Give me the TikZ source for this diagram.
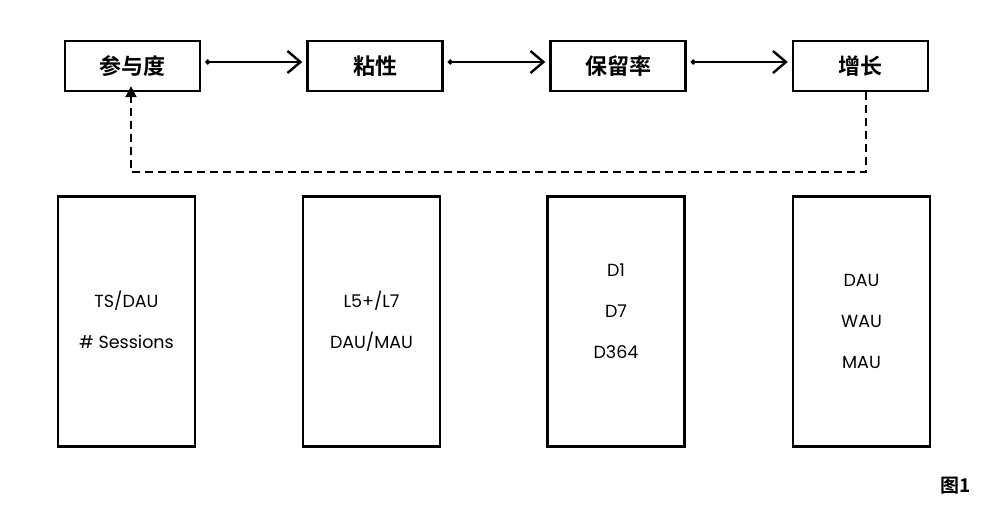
\documentclass[tikz,border=0pt]{standalone}
\usepackage{fontspec}
\setmainfont{Poppins}
\newfontfamily\cjk{Noto Sans CJK SC}[BoldFont={Noto Sans CJK SC Bold}]
\usetikzlibrary{arrows.meta}
\begin{document}
\begin{tikzpicture}[x=1pt,y=-1pt,
  topbox/.style={draw=black,line width=2.4pt,minimum width=135pt,minimum height=50pt,inner sep=0pt,font=\cjk\bfseries\fontsize{22}{22}\selectfont},
  botbox/.style={draw=black,line width=2.4pt,minimum width=137pt,minimum height=250pt,inner sep=0pt},
  metric/.style={font=\fontsize{17.5}{20}\selectfont},
  flow/.style={line width=1.8pt,{Circle[length=5pt]}-{Straight Barb[length=13pt,width=22pt,line width=2.4pt]}},
  loop/.style={line width=2pt,dash pattern=on 8pt off 5pt,-{Triangle[length=11pt,width=11pt]}}]
\useasboundingbox (0,0) rectangle (1000,516);
\node[topbox] (a) at (132.5,66) {参与度};
\node[topbox] (b) at (375,66) {粘性};
\node[topbox] (c) at (618,66) {保留率};
\node[topbox] (d) at (860.5,66) {增长};
\draw[flow] ([xshift=4pt,yshift=4pt]a.east) -- ([xshift=-4pt,yshift=4pt]b.west);
\draw[flow] ([xshift=4pt,yshift=4pt]b.east) -- ([xshift=-4pt,yshift=4pt]c.west);
\draw[flow] ([xshift=4pt,yshift=4pt]c.east) -- ([xshift=-4pt,yshift=4pt]d.west);
\coordinate (r) at (866,172);
\coordinate (l) at (131,172);
\draw[loop] (d.south -| r) -- (r) -- (l) -- ([yshift=6pt]a.south -| l);
\node[botbox] (p) at (126.5,321.5) {};
\node[botbox] (q) at (371.5,321.5) {};
\node[botbox] (s) at (616,321.5) {};
\node[botbox] (t) at (861.5,321.5) {};
\node[metric] (p1) at (126.5,301) {TS/DAU};
\node[metric] (p2) at (126.5,342) {\# Sessions};
\node[metric] (q1) at (371.5,301) {L5+/L7};
\node[metric] (q2) at (371.5,342) {DAU/MAU};
\node[metric] (s1) at (616,270) {D1};
\node[metric] (s2) at (616,311) {D7};
\node[metric] (s3) at (616,352) {D364};
\node[metric] (t1) at (861.5,280) {DAU};
\node[metric] (t2) at (861.5,321) {WAU};
\node[metric] (t3) at (861.5,362) {MAU};
\node[font=\cjk\bfseries\fontsize{19}{19}\selectfont] (fig) at (956,486) {图1};
\end{tikzpicture}
\end{document}
